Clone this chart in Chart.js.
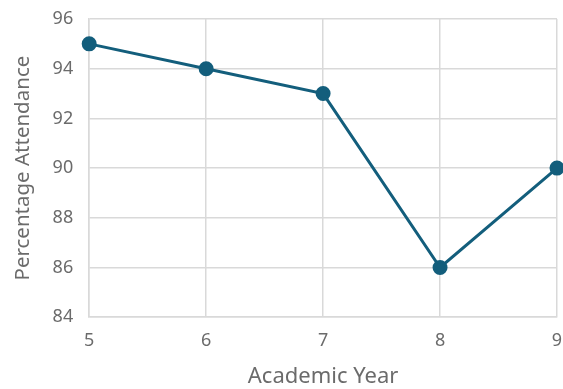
<!DOCTYPE html>
<html>
<head>
<meta charset="utf-8">
<script src="https://cdn.jsdelivr.net/npm/chart.js@4/dist/chart.umd.min.js"></script>
<style>
  html, body { margin: 0; padding: 0; background: #fff; }
  #wrap { width: 563px; height: 389px; position: relative; }
</style>
</head>
<body>
<div id="wrap"><canvas id="c"></canvas></div>
<script>
const years = ['5', '6', '7', '8', '9'];
const attendance = [95, 94, 93, 86, 90];
const yTicks = [84, 86, 88, 90, 92, 94, 96];

const lineColor = '#135e7c';
const textColor = '#6b6b6b';
const gridColor = '#d9d9d9';
const fontFamily = '"Noto Sans", "Open Sans", sans-serif';

new Chart(document.getElementById('c'), {
  type: 'line',
  data: {
    labels: years,
    datasets: [{
      data: attendance,
      borderColor: lineColor,
      backgroundColor: lineColor,
      borderWidth: 3,
      pointRadius: 6,
      pointHoverRadius: 6,
      pointBackgroundColor: lineColor,
      pointBorderColor: lineColor,
      tension: 0,
      clip: false
    }]
  },
  options: {
    responsive: true,
    maintainAspectRatio: false,
    animation: false,
    layout: { autoPadding: false, padding: { top: 19, right: 6, left: 11, bottom: 0 } },
    plugins: { legend: { display: false }, tooltip: { enabled: false } },
    scales: {
      x: {
        offset: false,
        afterFit: (s) => { s.paddingRight = 0; },
        grid: { color: gridColor, lineWidth: 1.5, drawTicks: false },
        border: { color: gridColor, width: 1.5 },
        ticks: { color: textColor, font: { family: fontFamily, size: 18 }, padding: 13, maxRotation: 0 },
        title: { display: true, text: 'Academic Year', color: textColor, font: { family: fontFamily, size: 22, lineHeight: 1.1 }, padding: { top: 0, bottom: 0 } }
      },
      y: {
        min: 84, max: 96,
        afterFit: (s) => { s.paddingTop = 0; s.paddingBottom = 0; },
        afterBuildTicks: (axis) => { axis.ticks = yTicks.map(v => ({ value: v })); },
        grid: { color: gridColor, lineWidth: 1.5, drawTicks: false },
        border: { color: gridColor, width: 1.5 },
        ticks: { color: textColor, font: { family: fontFamily, size: 18 }, padding: 16 },
        title: { display: true, text: 'Percentage Attendance', color: textColor, font: { family: fontFamily, size: 20.5 }, padding: { top: 0, bottom: 1 } }
      }
    }
  }
});
</script>
</body>
</html>
